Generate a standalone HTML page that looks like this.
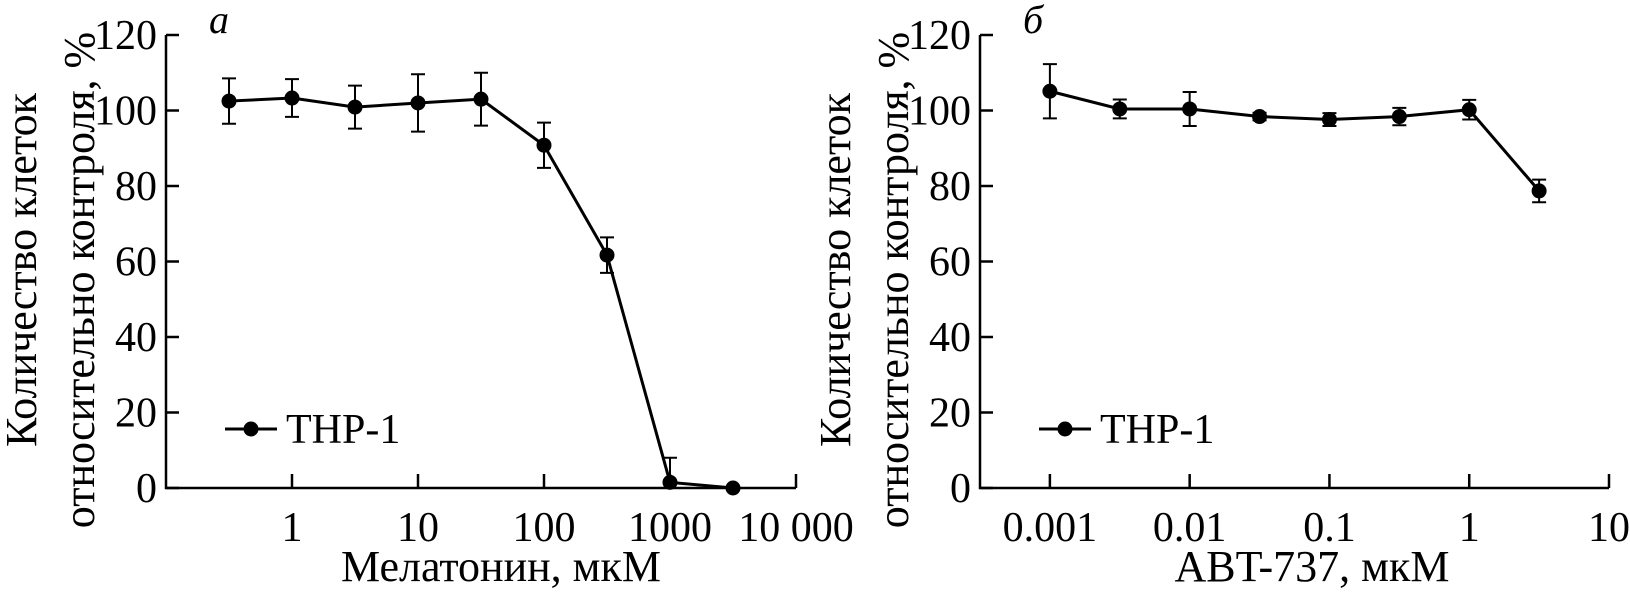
<!DOCTYPE html>
<html><head><meta charset="utf-8"><style>
html,body{margin:0;padding:0;background:#fff;}
svg{display:block;font-family:"Liberation Serif",serif;}
</style></head><body>
<svg id="chart" width="1630" height="594" viewBox="0 0 1630 594" xmlns="http://www.w3.org/2000/svg"></svg>
<script>
const yTicks=[0,20,40,60,80,100,120];
const melX=[-0.5,0,0.5,1,1.5,2,2.5,3,3.5];
const melY=[102.5,103.3,100.9,102,103,90.8,61.7,1.5,0];
const melErr=[6,5,5.7,7.6,7,6,4.7,6.5,0];
const melTicks=["1","10","100","1000","10 000"];
const melTickPos=[0,1,2,3,4];
const abtX=[-3,-2.5,-2,-1.5,-1,-0.5,0,0.5];
const abtY=[105.1,100.4,100.4,98.4,97.6,98.4,100.2,78.7];
const abtErr=[7.2,2.5,4.5,1,1.7,2.3,2.6,3];
const abtTicks=["0.001","0.01","0.1","1","10"];
const abtTickPos=[-3,-2,-1,0,1];

const svg=document.getElementById('chart');
const NS='http://www.w3.org/2000/svg';
function mk(tag,attrs,parent){const e=document.createElementNS(NS,tag);for(const k in attrs)e.setAttribute(k,attrs[k]);(parent||svg).appendChild(e);return e;}

function panel(o){
  const g=mk('g',{});
  
  
  const y0=488,y1=35;
  const ys=v=>y0-(v/120)*(y0-y1);
  const xs=l=>o.x0+(l-o.lmin)/(o.lmax-o.lmin)*(o.x1-o.x0);
  const ax=mk('path',{d:`M${o.x0},${y1} L${o.x0},${y0} L${o.x1},${y0}`,fill:'none',stroke:'#000','stroke-width':2.5},g);
  
  
  yTicks.forEach(v=>{
    mk('line',{x1:o.x0,x2:o.x0+13,y1:ys(v),y2:ys(v),stroke:'#000','stroke-width':2.5},g);
    const t=mk('text',{x:o.x0-9,y:ys(v)+14,'text-anchor':'end','font-size':42},g);
    
    
    t.textContent=v;
  });
  o.tpos.forEach((p,i)=>{
    const x=xs(p);
    mk('line',{x1:x,x2:x,y1:y0,y2:y0-14,stroke:'#000','stroke-width':2.5},g);
    const t=mk('text',{x:x,y:541,'text-anchor':'middle','font-size':42},g);
    
    
    t.textContent=o.tlab[i];
  });
  o.xv.forEach((l,i)=>{
    const e=o.err[i]; if(!e) return;
    const x=xs(l), hi=ys(o.yv[i]+e), lo=ys(Math.max(0,o.yv[i]-e));
    const eb=mk('path',{d:`M${x},${hi} L${x},${lo} M${x-7},${hi} L${x+7},${hi} M${x-7},${lo} L${x+7},${lo}`,stroke:'#000','stroke-width':2,fill:'none'},g);
    
    
  });
  const pl=mk('polyline',{points:o.xv.map((l,i)=>xs(l)+','+ys(o.yv[i])).join(' '),fill:'none',stroke:'#000','stroke-width':3},g);
  
  
  o.xv.forEach((l,i)=>{
    const c=mk('circle',{cx:xs(l),cy:ys(o.yv[i]),r:7.5,fill:'#000'},g);
    
    
  });
  const lg=mk('g',{},g);
  
  
  mk('line',{x1:o.x0+59,x2:o.x0+111,y1:429,y2:429,stroke:'#000','stroke-width':3},lg);
  mk('circle',{cx:o.x0+85,cy:429,r:7.5,fill:'#000'},lg);
  const lt=mk('text',{x:o.x0+120,y:443,'font-size':42},lg);
  lt.textContent='THP-1';
  const pt=mk('text',{x:o.x0+43,y:33,'font-size':40,'font-style':'italic'},g);
  
  
  pt.textContent=o.letter;
  const xt=mk('text',{x:o.xtc,y:581,'text-anchor':'middle','font-size':44},g);
  
  
  xt.textContent=o.xtitle;
  const yt=mk('text',{transform:`translate(${o.x0-130},270) rotate(-90)`,'text-anchor':'middle','font-size':44},g);
  
  
  const s1=mk('tspan',{x:0,y:0},yt); s1.textContent='Количество клеток';
  const s2=mk('tspan',{x:-10,y:58},yt); s2.textContent='относительно контроля, %';
}
panel({name:'panel-a-melatonin',x0:166,x1:796,lmin:-1,lmax:4,xv:melX,yv:melY,err:melErr,tpos:melTickPos,tlab:melTicks,letter:'а',xtitle:'Мелатонин, мкМ',xtc:501});
panel({name:'panel-b-abt737',x0:980,x1:1609,lmin:-3.5,lmax:1,xv:abtX,yv:abtY,err:abtErr,tpos:abtTickPos,tlab:abtTicks,letter:'б',xtitle:'ABT-737, мкМ',xtc:1312});
</script>
</body></html>
